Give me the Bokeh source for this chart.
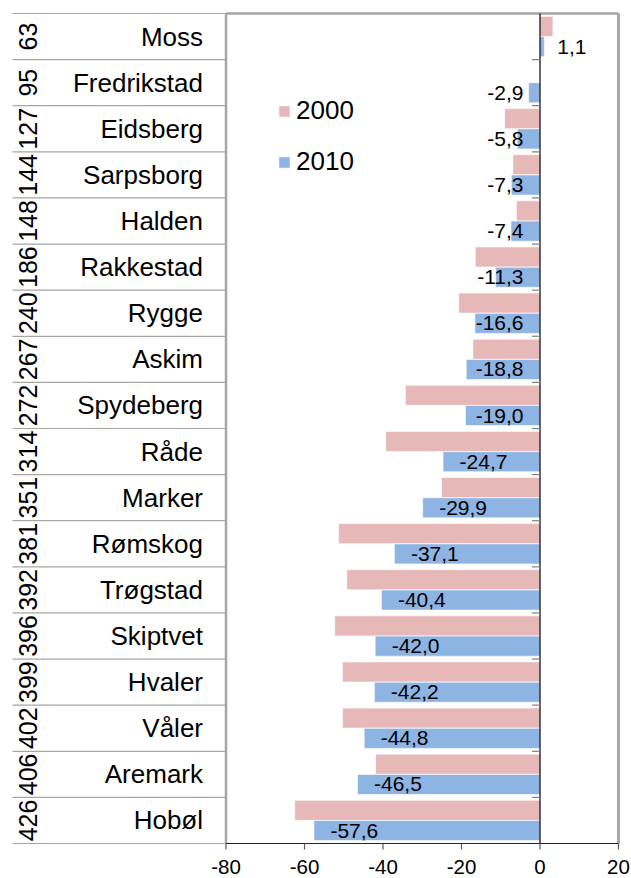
import numpy as np
from math import pi
from bokeh.plotting import figure
from bokeh.models import Range1d, Legend, LegendItem, ColumnDataSource
from bokeh.core.properties import value
from bokeh.embed import file_html
from bokeh.resources import INLINE

# ---------------- data ----------------
names = ["Moss", "Fredrikstad", "Eidsberg", "Sarpsborg", "Halden", "Rakkestad",
         "Rygge", "Askim", "Spydeberg", "Råde", "Marker", "Rømskog", "Trøgstad",
         "Skiptvet", "Hvaler", "Våler", "Aremark", "Hobøl"]
ranks = [63, 95, 127, 144, 148, 186, 240, 267, 272, 314, 351, 381, 392, 396,
         399, 402, 406, 426]
v2000 = [3.3, 0.0, -9.0, -6.9, -6.0, -16.5, -20.7, -17.1, -34.3, -39.3, -25.1,
         -51.3, -49.2, -52.3, -50.3, -50.3, -41.9, -62.5]
v2010 = [1.1, -2.9, -5.8, -7.3, -7.4, -11.3, -16.6, -18.8, -19.0, -24.7, -29.9,
         -37.1, -40.4, -42.0, -42.2, -44.8, -46.5, -57.6]
series_names = ["2000", "2010"]
x_ticks = [-80, -60, -40, -20, 0, 20]
x_tick_labels = ["-80", "-60", "-40", "-20", "0", "20"]

# ---------------- layout (pixels) ----------------
PINK = "#E6B9B8"
BLUE = "#8EB4E3"
FONT = "Liberation Sans"
W, H = 631, 878
PLOT_L, PLOT_R = 225.5, 618.0    # pixel x of first / last tick
PLOT_T, PLOT_B = 13.0, 843.0     # pixel y of rows top / bottom
TABLE_L = 12.0

n = len(names)
xmin, xmax = x_ticks[0], x_ticks[-1]
ppu = (PLOT_R - PLOT_L) / (xmax - xmin)
x_lo = xmin - PLOT_L / ppu
x_hi = xmax + (W - PLOT_R) / ppu
x_table = xmin - (PLOT_L - TABLE_L) / ppu
rpx = (PLOT_B - PLOT_T) / n
y_top = -PLOT_T / rpx
y_bottom = n + (H - PLOT_B) / rpx

idx = np.arange(n)
bar_h = 0.435
lab_x, lab_align, lab_off = [], [], []
for v in v2010:
    if v > 0:
        lab_x.append(v); lab_align.append("left"); lab_off.append(13)
    elif v > -20:
        lab_x.append(0); lab_align.append("right"); lab_off.append(-16.5)
    else:
        lab_x.append(v); lab_align.append("left"); lab_off.append(16.5)

src = ColumnDataSource(dict(
    y_top=idx + 0.5 - bar_h / 2 - 0.0025,
    y_bot=idx + 0.5 + bar_h / 2 + 0.0025,
    y_mid=idx + 0.5,
    v2000=v2000, v2010=v2010,
    names=names, ranks=[str(r) for r in ranks],
    lab=[f"{v:.1f}".replace(".", ",") for v in v2010],
    lab_x=lab_x, lab_align=lab_align, lab_off=lab_off,
))

p = figure(frame_width=W, frame_height=H,
           x_range=Range1d(x_lo, x_hi), y_range=Range1d(y_bottom, y_top),
           output_backend="svg", toolbar_location=None,
           x_axis_location=None, y_axis_location=None,
           min_border_left=0, min_border_top=0, min_border_right=0,
           min_border_bottom=0)
p.xgrid.visible = False
p.ygrid.visible = False
p.outline_line_color = None
p.background_fill_color = "white"

# table lines (row boundaries)
bounds = np.arange(n + 1)
p.segment(x0=[x_table] * (n + 1), x1=[xmin] * (n + 1), y0=bounds, y1=bounds,
          line_color="#A6A6A6", line_width=1.2)

r1 = p.hbar(y="y_top", left=0, right="v2000", height=bar_h, source=src,
            fill_color=PINK, line_color="white", line_width=0.6)
r2 = p.hbar(y="y_bot", left=0, right="v2010", height=bar_h, source=src,
            fill_color=BLUE, line_color="white", line_width=0.6)

# plot border
p.segment(x0=[xmin], x1=[xmax], y0=[0], y1=[0], line_color="#A6A6A6", line_width=2.5)
p.segment(x0=[xmin], x1=[xmin], y0=[0], y1=[n], line_color="#A6A6A6", line_width=2.5)
p.segment(x0=[xmax], x1=[xmax], y0=[0], y1=[n], line_color="#A6A6A6", line_width=3)
# x axis line, ticks and labels
p.segment(x0=[xmin], x1=[xmax], y0=[n], y1=[n], line_color="#262626", line_width=1.2)
p.segment(x0=x_ticks, x1=x_ticks, y0=[n] * len(x_ticks),
          y1=[n + 6 / rpx] * len(x_ticks), line_color="#595959", line_width=1.2)
p.text(x=x_ticks, y=[n] * len(x_ticks), text=x_tick_labels, y_offset=23,
       text_align="center", text_baseline="middle", text_font=value(FONT),
       text_font_size="20.5px", text_color="black")
# zero axis and its ticks
p.segment(x0=[0], x1=[0], y0=[0], y1=[n], line_color="black", line_width=1.2)
p.scatter(x=[-4 / ppu] * (n - 1), y=bounds[1:-1], marker="dash", size=8,
          line_color="#7F7F7F", line_width=1.2)

# table texts
p.text(x=xmin, y="y_mid", text="names", source=src, x_offset=-23,
       text_align="right", text_baseline="middle", text_font=value(FONT),
       text_font_size="26px", text_color="black")
p.text(x=x_table, y="y_mid", text="ranks", source=src, x_offset=15.5,
       angle=pi / 2, text_align="center", text_baseline="middle",
       text_font=value(FONT), text_font_size="25px", text_color="black")

# data labels
p.text(x="lab_x", y="y_bot", text="lab", source=src, x_offset="lab_off",
       text_align="lab_align", text_baseline="middle", text_font=value(FONT),
       text_font_size="21px", text_color="black")

legend = Legend(items=[LegendItem(label=series_names[0], renderers=[r1]),
                       LegendItem(label=series_names[1], renderers=[r2])],
                location=(277, 701), orientation="vertical",
                border_line_color=None, background_fill_alpha=0,
                label_text_font=FONT, label_text_font_size="26px",
                label_text_color="black",
                glyph_width=14, glyph_height=14, label_standoff=5,
                spacing=20, padding=0, margin=0, label_height=30)
p.add_layout(legend)

open("out.html", "w").write(file_html(p, INLINE))
